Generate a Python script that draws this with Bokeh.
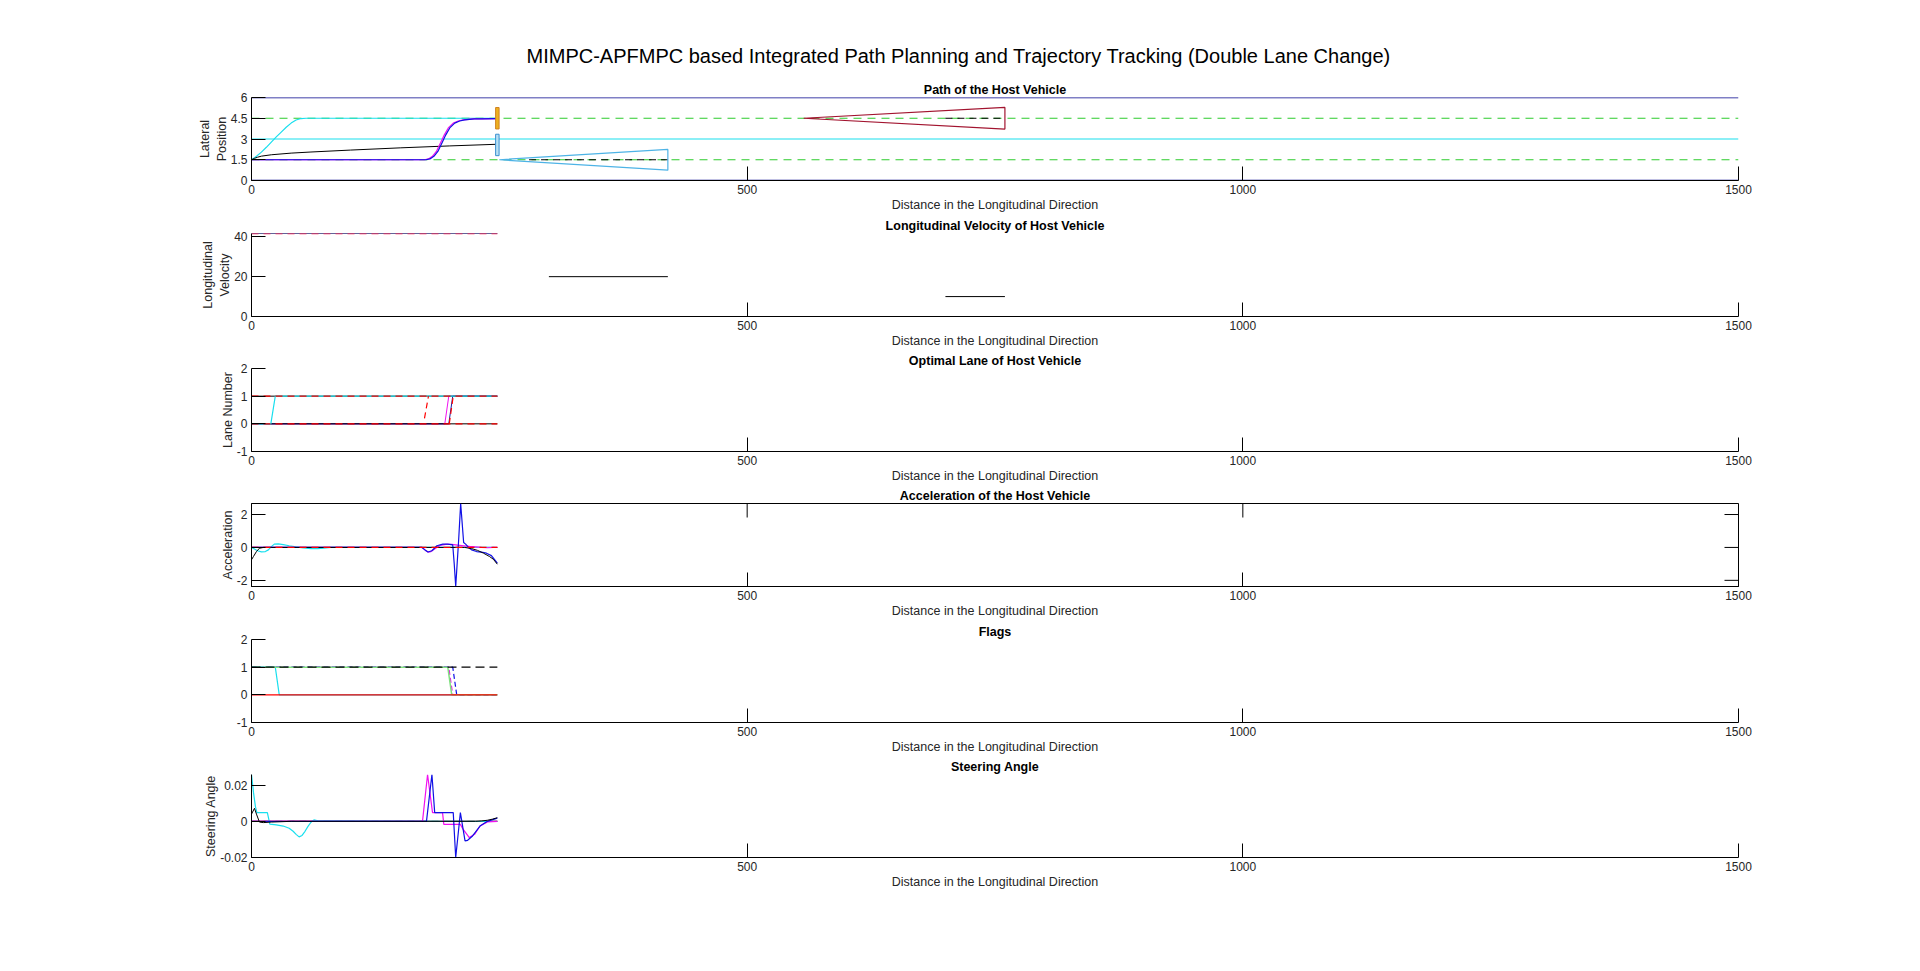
import math
from bokeh.plotting import figure
from bokeh.models import Range1d, FixedTicker, Title
from bokeh.layouts import column
from bokeh.embed import file_html
from bokeh.resources import INLINE

FONT = "Liberation Sans"

# ---------------- texts / axes ----------------
MAIN_TITLE = "MIMPC-APFMPC based Integrated Path Planning and Trajectory Tracking (Double Lane Change)"
SUB_TITLES = ["Path of the Host Vehicle", "Longitudinal Velocity of Host Vehicle",
              "Optimal Lane of Host Vehicle", "Acceleration of the Host Vehicle",
              "Flags", "Steering Angle"]
Y_LABELS = ["Lateral\nPosition", "Longitudinal\nVelocity", "Lane Number", "Acceleration", None, "Steering Angle"]
X_LABEL = "Distance in the Longitudinal Direction"
X_RANGE = (0, 1500)
X_TICKS = [0, 500, 1000, 1500]
X_TICK_LABELS = ["0", "500", "1000", "1500"]
Y_RANGES = [(0, 6), (0, 41.67), (-1, 2), (-2.375, 2.67), (-1, 2), (-0.02, 0.0259)]
Y_TICKS = [[0, 1.5, 3, 4.5, 6], [0, 20, 40], [-1, 0, 1, 2], [-2, 0, 2], [-1, 0, 1, 2], [-0.02, 0, 0.02]]
Y_TICK_LABELS = [["0", "1.5", "3", "4.5", "6"], ["0", "20", "40"], ["-1", "0", "1", "2"],
                 ["-2", "0", "2"], ["-1", "0", "1", "2"], ["-0.02", "0", "0.02"]]

# ---------------- subplot 1 : path ----------------
ROAD_X = [0, 1500]
ROAD_EDGES = [0, 6]
LANE_DIVIDER = 3
LANE_CENTERS = [1.5, 4.5]
PATH_CYAN_X = [0, 5, 10, 15, 20, 25, 30, 35, 40, 45, 50, 55, 248]
PATH_CYAN_Y = [1.5, 1.75, 2.05, 2.4, 2.78, 3.15, 3.5, 3.85, 4.15, 4.37, 4.48, 4.5, 4.5]
PATH_BLACK_X = [0, 3, 6, 10, 20, 40, 60, 100, 150, 200, 248]
PATH_BLACK_Y = [1.5, 1.6, 1.68, 1.76, 1.86, 1.98, 2.06, 2.2, 2.36, 2.5, 2.62]
PATH_BLUE_X = [0, 176, 180, 184, 188, 192, 196, 200, 205, 210, 215, 220, 225, 232, 248]
PATH_BLUE_Y = [1.5, 1.5, 1.56, 1.75, 2.1, 2.7, 3.3, 3.8, 4.15, 4.3, 4.38, 4.42, 4.45, 4.46, 4.47]
PATH_MAG_X = [0, 174.5, 178.5, 182.5, 186.5, 190.5, 194.5, 198.5, 203.5, 208.5, 213.5, 218.5, 223.5, 230.5, 248]
PATH_MAG_Y = [1.5, 1.5, 1.56, 1.75, 2.1, 2.7, 3.3, 3.8, 4.15, 4.3, 4.38, 4.42, 4.45, 4.46, 4.47]
OBS_PRED_X = [[280, 420], [700, 760]]
OBS_PRED_Y = [[1.5, 1.5], [4.5, 4.5]]
FIELD1_X = [250, 420, 420]
FIELD1_Y = [1.5, 2.25, 0.75]
FIELD2_X = [557, 760, 760]
FIELD2_Y = [4.5, 5.28, 3.72]
VEH_X = [248, 248]
VEH_Y = [4.5, 2.57]

# ---------------- subplot 2 : velocity ----------------
V_HOST_X = [0, 248]
V_HOST_Y = [41.67, 41.67]
V_OBS1_X = [300, 420]
V_OBS1_Y = [20, 20]
V_OBS2_X = [700, 760]
V_OBS2_Y = [10, 10]

# ---------------- subplot 3 : lane ----------------
LN_MAG_X = [0, 195, 199, 248]
LN_MAG_Y = [0, 0, 1, 1]
LN_BLUE_X = [0, 199, 203, 248]
LN_BLUE_Y = [0, 0, 1, 1]
LN_BLACK_X = [0, 248]
LN_BLACK_LO = [0, 0]
LN_BLACK_HI = [1, 1]
LN_CYAN_X = [0, 19.5, 24, 248]
LN_CYAN_Y = [0, 0, 1, 1]
LN_RED_SW1_X = [174.5, 178.5]
LN_RED_SW1_Y = [0.2, 1]
LN_RED_SW2_X = [199.5, 203.5]
LN_RED_SW2_Y = [0, 1]

# ---------------- subplot 4 : acceleration ----------------
ACC_CYAN_X = [0, 3, 6, 10, 14, 17, 20, 23, 27, 32, 38, 45, 52, 60, 67, 73, 80, 245]
ACC_CYAN_Y = [0, -0.1, -0.2, -0.27, -0.25, -0.15, 0.05, 0.2, 0.22, 0.17, 0.1, 0.03, -0.03, -0.07, -0.07, -0.04, 0, 0]
ACC_BLACK_X = [0, 2, 5, 8, 12, 20, 215, 222, 228, 234, 240, 244, 248]
ACC_BLACK_Y = [-0.75, -0.55, -0.25, -0.05, 0, 0, 0, -0.07, -0.18, -0.35, -0.55, -0.72, -1.02]
ACC_BLUE_X = [0, 172, 175, 178, 182, 187, 193, 198, 203, 204.5, 206, 209, 211, 214, 216, 219, 222, 227, 232, 237, 242, 248]
ACC_BLUE_Y = [0, 0, -0.15, -0.28, -0.2, 0.1, 0.2, 0.2, 0.15, -1.0, -2.375, 0.5, 2.67, 0.3, 0.2, 0, -0.15, -0.25, -0.28, -0.35, -0.5, -0.95]
ACC_MAG_X = [0, 172, 175, 178, 181, 185, 190, 196, 202, 208, 214, 220, 226, 232, 238, 244, 248]
ACC_MAG_Y = [0, 0, -0.15, -0.28, -0.25, -0.08, 0.12, 0.18, 0.18, 0.14, 0.1, 0.06, 0.03, 0, -0.02, 0, 0]
ACC_REF_X = [0, 248]
ACC_REF_Y = [0, 0]

# ---------------- subplot 5 : flags ----------------
FL_X = [0, 248]
FL_ONE = [1, 1]
FL_ZERO = [0, 0]
FL_CYAN_X = [0, 24, 28, 248]
FL_CYAN_Y = [1, 1, 0, 0]
FL_GREEN_X = [0, 198, 202, 248]
FL_GREEN_Y = [1, 1, 0, 0]
FL_MAG_X = [0, 199, 203, 248]
FL_MAG_Y = [1, 1, 0, 0]
FL_BLUE_X = [0, 203, 207, 248]
FL_BLUE_Y = [1, 1, 0, 0]

# ---------------- subplot 6 : steering ----------------
ST_CYAN_X = [0, 2, 4, 5.5, 16, 18.5, 25, 32, 38, 42, 45, 48, 51, 54, 57, 60, 63, 68, 248]
ST_CYAN_Y = [0.0259, 0.016, 0.008, 0.0048, 0.0048, -0.0015, -0.002, -0.0026, -0.0038, -0.0055, -0.0072,
             -0.0086, -0.0078, -0.0055, -0.0028, -0.0005, 0.0008, 0.0002, 0]
ST_BLACK_X = [0, 3, 5, 8, 12, 20, 40, 226, 232, 238, 243, 248]
ST_BLACK_Y = [0.004, 0.0072, 0.004, -0.0004, -0.0007, -0.0004, 0, 0, 0.0002, 0.0006, 0.0012, 0.002]
ST_MAG_X = [0, 172.5, 177.6, 182.6, 192.7, 194, 210.7, 213, 219.7, 225, 230.5, 238, 248]
ST_MAG_Y = [0, 0, 0.0259, 0.0048, 0.0048, -0.0017, -0.0017, -0.004, -0.009, -0.0072, -0.0026, -0.0003, 0]
ST_BLUE_X = [0, 176.5, 182, 184.8, 203.5, 206, 210.7, 215.4, 218, 223, 230.5, 238, 248]
ST_BLUE_Y = [0, 0, 0.0259, 0.0048, 0.0048, -0.02, 0.0048, -0.0108, -0.0105, -0.0081, -0.0026, 0, 0.0018]
ST_REF_X = [0, 248]
ST_REF_Y = [0, 0]

# ---------------- styles ----------------
NAVY = "#00008b"
CYAN = "#19dfee"
GREEN = "#2ecc2e"
BLACK = "#000000"
RED = "#ff0000"
MAGENTA = "#f010f0"
BLUE = "#1010e6"
SKY = "#4db3e6"
MAROON = "#a2142f"
DASH = "7 5"
TEXT_COLOR = "#262626"
TICK_LEN = 14

TOPS = [97, 18, 18, 18, 18, 18]
BOTTOMS = [35, 34, 34, 35, 34, 35]


def style_axis(ax, ticks, labels):
    ax.ticker = FixedTicker(ticks=ticks, minor_ticks=[])
    ax.major_label_overrides = {t: l for t, l in zip(ticks, labels)}
    ax.major_tick_in = TICK_LEN
    ax.major_tick_out = 0
    ax.minor_tick_in = 0
    ax.minor_tick_out = 0
    ax.minor_tick_line_color = None
    ax.axis_line_color = BLACK
    ax.major_tick_line_color = BLACK
    ax.major_label_text_font = FONT
    ax.major_label_text_font_size = "12px"
    ax.major_label_text_color = TEXT_COLOR
    ax.major_label_standoff = 4
    ax.axis_label_text_font = FONT
    ax.axis_label_text_font_size = "12.5px"
    ax.axis_label_text_font_style = "normal"
    ax.axis_label_text_color = TEXT_COLOR


def make_panel(i, box=False):
    p = figure(frame_width=1487, frame_height=83,
               x_range=Range1d(*X_RANGE), y_range=Range1d(*Y_RANGES[i]),
               output_backend="svg", toolbar_location=None, title=None,
               min_border_left=251, min_border_right=182,
               min_border_top=TOPS[i], min_border_bottom=BOTTOMS[i],
               outline_line_color=BLACK if box else None)
    p.xgrid.visible = False
    p.ygrid.visible = False
    xa = p.xaxis[0]
    ya = p.yaxis[0]
    style_axis(xa, X_TICKS, X_TICK_LABELS)
    style_axis(ya, Y_TICKS[i], Y_TICK_LABELS[i])
    xa.axis_label = X_LABEL
    xa.axis_label_standoff = 1
    if Y_LABELS[i]:
        ya.axis_label = Y_LABELS[i]
        ya.axis_label_standoff = -1
    if box:
        # inward ticks on the top and right edges of the box
        n = len(X_TICKS)
        p.ray(x=X_TICKS, y=[Y_RANGES[i][1]] * n, length=TICK_LEN, length_units="screen",
              angle=-math.pi / 2, line_color=BLACK, line_width=1)
        m = len(Y_TICKS[i])
        p.ray(x=[X_RANGE[1]] * m, y=Y_TICKS[i], length=TICK_LEN, length_units="screen",
              angle=math.pi, line_color=BLACK, line_width=1)
    p.add_layout(Title(text=SUB_TITLES[i], align="center", text_font=FONT, text_font_size="12.5px",
                       text_font_style="bold", text_color=BLACK, standoff=2), "above")
    return p


# ---- panel 1
p1 = make_panel(0)
p1.add_layout(Title(text=MAIN_TITLE, align="left", text_font=FONT, text_font_size="20px",
                    text_font_style="normal", text_color=BLACK, standoff=25, offset=275), "above")
for yv in ROAD_EDGES:
    p1.line(ROAD_X, [yv, yv], line_color=NAVY, line_width=1.3)
p1.line(ROAD_X, [LANE_DIVIDER, LANE_DIVIDER], line_color=CYAN, line_width=1.2)
for yv in LANE_CENTERS:
    p1.line(ROAD_X, [yv, yv], line_color=GREEN, line_width=1.2, line_dash="8 6")
for xs, ys in zip(OBS_PRED_X, OBS_PRED_Y):
    p1.line(xs, ys, line_color=BLACK, line_width=1, line_dash=DASH)
p1.patch(FIELD1_X, FIELD1_Y, fill_alpha=0, line_color=SKY, line_width=1.2)
p1.patch(FIELD2_X, FIELD2_Y, fill_alpha=0, line_color=MAROON, line_width=1.2)
p1.line(PATH_CYAN_X, PATH_CYAN_Y, line_color=CYAN, line_width=1.2)
p1.line(PATH_BLACK_X, PATH_BLACK_Y, line_color=BLACK, line_width=1)
p1.line(PATH_MAG_X, PATH_MAG_Y, line_color=MAGENTA, line_width=1.2)
p1.line(PATH_BLUE_X, PATH_BLUE_Y, line_color=BLUE, line_width=1.2)
p1.rect(x=[VEH_X[0]], y=[VEH_Y[0]], width=3.5, height=1.55, fill_color="#edb120", line_color="#d08020", line_width=1)
p1.rect(x=[VEH_X[1]], y=[VEH_Y[1]], width=3.5, height=1.55, fill_color="#b8e0f4", line_color="#3a8fd0", line_width=1)

# ---- panel 2
p2 = make_panel(1)
p2.line(V_HOST_X, V_HOST_Y, line_color=BLUE, line_width=1)
p2.line(V_HOST_X, V_HOST_Y, line_color="#404040", line_width=1.2)
p2.line(V_HOST_X, V_HOST_Y, line_color="#ff2050", line_width=1.5, line_dash=DASH)
p2.line(V_OBS1_X, V_OBS1_Y, line_color=BLACK, line_width=1)
p2.line(V_OBS2_X, V_OBS2_Y, line_color=BLACK, line_width=1)

# ---- panel 3
p3 = make_panel(2)
p3.line(LN_MAG_X, LN_MAG_Y, line_color=MAGENTA, line_width=1)
p3.line(LN_BLUE_X, LN_BLUE_Y, line_color="#1a1aa0", line_width=1)
p3.line(LN_BLACK_X, LN_BLACK_LO, line_color=BLACK, line_width=1)
p3.line(LN_BLACK_X, LN_BLACK_HI, line_color=BLACK, line_width=1)
p3.line(LN_CYAN_X, LN_CYAN_Y, line_color=CYAN, line_width=1.2)
p3.line(LN_BLACK_X, LN_BLACK_LO, line_color=RED, line_width=1.2, line_dash=DASH)
p3.line(LN_BLACK_X, LN_BLACK_HI, line_color=RED, line_width=1.2, line_dash=DASH)
p3.line(LN_RED_SW1_X, LN_RED_SW1_Y, line_color=RED, line_width=1.2, line_dash="6 4")
p3.line(LN_RED_SW2_X, LN_RED_SW2_Y, line_color=RED, line_width=1.2, line_dash="6 4")

# ---- panel 4
p4 = make_panel(3, box=True)
p4.line(ACC_REF_X, ACC_REF_Y, line_color=BLACK, line_width=1)
p4.line(ACC_CYAN_X, ACC_CYAN_Y, line_color=CYAN, line_width=1.2)
p4.line(ACC_MAG_X, ACC_MAG_Y, line_color=MAGENTA, line_width=1.2)
p4.line(ACC_BLUE_X, ACC_BLUE_Y, line_color=BLUE, line_width=1.2)
p4.line(ACC_BLACK_X, ACC_BLACK_Y, line_color=BLACK, line_width=1)
p4.line(ACC_REF_X, ACC_REF_Y, line_color=RED, line_width=1.2, line_dash=DASH)

# ---- panel 5
p5 = make_panel(4)
p5.line(FL_MAG_X, FL_MAG_Y, line_color=MAGENTA, line_width=1.2, line_dash="5 3")
p5.line(FL_BLUE_X, FL_BLUE_Y, line_color=BLUE, line_width=1.2, line_dash="5 3")
p5.line(FL_CYAN_X, FL_CYAN_Y, line_color=CYAN, line_width=1.2)
p5.line(FL_GREEN_X, FL_GREEN_Y, line_color="#7fe07f", line_width=1.5)
p5.line(FL_X, FL_ONE, line_color=BLACK, line_width=1.2, line_dash="9 5")
p5.line(FL_X, FL_ZERO, line_color=RED, line_width=1.2)

# ---- panel 6
p6 = make_panel(5)
p6.line(ST_REF_X, ST_REF_Y, line_color="#ff5050", line_width=1.5)
p6.line(ST_REF_X, ST_REF_Y, line_color="#555555", line_width=1, line_dash=DASH)
p6.line(ST_CYAN_X, ST_CYAN_Y, line_color=CYAN, line_width=1.2)
p6.line(ST_MAG_X, ST_MAG_Y, line_color=MAGENTA, line_width=1.2)
p6.line(ST_BLUE_X, ST_BLUE_Y, line_color=BLUE, line_width=1.2)
p6.line(ST_BLACK_X, ST_BLACK_Y, line_color=BLACK, line_width=1)

layout = column(p1, p2, p3, p4, p5, p6, spacing=0)
open("out.html", "w").write(file_html(layout, INLINE, title="MIMPC-APFMPC"))
